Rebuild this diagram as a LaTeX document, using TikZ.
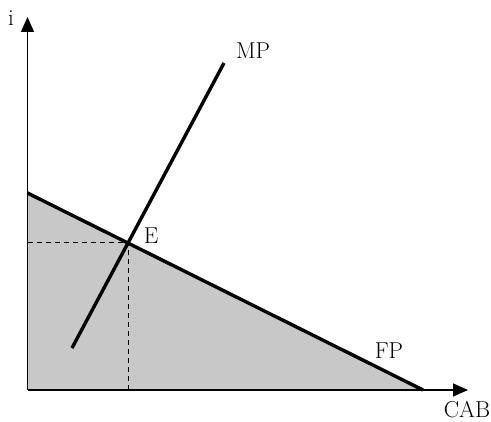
\documentclass[tikz,border=0pt]{standalone}
\usepackage{fontspec}
\usetikzlibrary{arrows.meta}
\definecolor{areagray}{RGB}{200,200,201}
\begin{document}
\begin{tikzpicture}[x=1pt,y=-1pt,
  axis/.style={line width=1.3pt,-{Triangle[length=15pt,width=13pt]}},
  curve/.style={line width=3.4pt},
  guide/.style={line width=1pt,dash pattern=on 5pt off 4pt},
  lbl/.style={font=\fontsize{23}{26}\selectfont,inner sep=0pt}]
\useasboundingbox (0,0) rectangle (491,422);
\coordinate (O) at (27.5,390);
\coordinate (ytip) at (27.5,17);
\coordinate (xtip) at (468,390);
\coordinate (FPa) at (27.5,193);
\coordinate (FPb) at (423,390);
\coordinate (MPa) at (72,348);
\coordinate (MPb) at (224,63);
\coordinate (Ept) at (128,243);
\coordinate (Ey) at (27.5,243);
\coordinate (Ex) at (128,390);
\fill[areagray] (FPa) -- (FPb) -- (O) -- cycle;
\draw[guide] (Ey) -- (Ept) -- (Ex);
\draw[axis] (O) -- (ytip);
\draw[axis] (O) -- (xtip);
\draw[curve] (FPa) -- (FPb);
\draw[curve] (MPa) -- (MPb);
\node[lbl] (i) at (11,18) {i};
\node[lbl] (cab) at (467,410) {CAB};
\node[lbl] (mp) at (253,51) {MP};
\node[lbl] (fp) at (389,351) {FP};
\node[lbl] (E) at (151,236) {E};
\end{tikzpicture}
\end{document}
